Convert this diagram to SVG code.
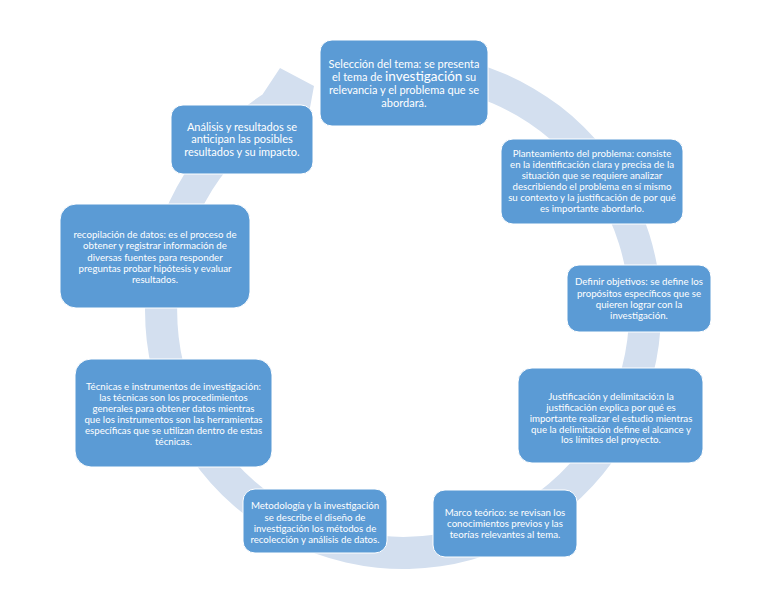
<svg xmlns="http://www.w3.org/2000/svg" width="768" height="594" viewBox="0 0 768 594">
<style>
.box{fill:#5b9bd5;stroke:#ffffff;stroke-width:1}
.t{font-family:Lato,"Open Sans","Liberation Sans",sans-serif;fill:#ffffff;text-anchor:middle;font-size:9.7px}
.big{font-size:11px}
.ring{fill:#d3dfef}
</style>
<rect width="768" height="594" fill="#ffffff"/>
<g id="connectors">
<path class="ring" d="M 349.4 58.6 A 258 258 0 1 1 262.5 94.6 L 280 68 L 314 86 L 307.4 121.8 L 279.9 121.5 A 226 226 0 1 0 356.0 89.9 Z"/>
</g>
<g id="n1">
<rect class="box" x="320" y="40" width="168" height="86" rx="12"/>
<text class="t big" x="404"><tspan x="404" y="67.5">Selección del tema: se presenta</tspan><tspan x="404" y="81">el tema de <tspan style="font-size:13.5px">investigación</tspan> su</tspan><tspan x="404" y="94">relevancia y el problema que se</tspan><tspan x="404" y="106.5">abordará.</tspan></text>
</g>
<g id="n2">
<rect class="box" x="501" y="139" width="182" height="85" rx="12"/>
<text class="t" x="592"><tspan x="592" y="157">Planteamiento del problema: consiste</tspan><tspan x="592" y="168">en la identificación clara y precisa de la</tspan><tspan x="592" y="179">situación que se requiere analizar</tspan><tspan x="592" y="190.3">describiendo el problema en sí mismo</tspan><tspan x="592" y="201.3">su contexto y la justificación de por qué</tspan><tspan x="592" y="212.3">es importante abordarlo.</tspan></text>
</g>
<g id="n3">
<rect class="box" x="567" y="265" width="144" height="67" rx="12"/>
<text class="t" x="639"><tspan x="639" y="285.3">Definir objetivos: se define los</tspan><tspan x="639" y="297">propósitos específicos que se</tspan><tspan x="639" y="308">quieren lograr con la</tspan><tspan x="639" y="318.6">investigación.</tspan></text>
</g>
<g id="n4">
<rect class="box" x="518" y="368" width="185" height="95" rx="14"/>
<text class="t" x="611"><tspan x="611" y="400">Justificación y delimitació:n la</tspan><tspan x="611" y="411">justificación explica por qué es</tspan><tspan x="611" y="421.6">importante realizar el estudio mientras</tspan><tspan x="611" y="432.6">que la delimitación define el alcance y</tspan><tspan x="611" y="443.3">los límites del proyecto.</tspan></text>
</g>
<g id="n5">
<rect class="box" x="433" y="490" width="144" height="67" rx="12"/>
<text class="t" x="505"><tspan x="505" y="516.3">Marco teórico: se revisan los</tspan><tspan x="505" y="527">conocimientos previos y las</tspan><tspan x="505" y="538">teorías relevantes al tema.</tspan></text>
</g>
<g id="n6">
<rect class="box" x="243" y="489" width="144" height="64" rx="12"/>
<text class="t" x="315"><tspan x="315" y="509.3">Metodología y la investigación</tspan><tspan x="315" y="521">se describe el diseño de</tspan><tspan x="315" y="532">investigación los métodos de</tspan><tspan x="315" y="542.6">recolección y análisis de datos.</tspan></text>
</g>
<g id="n7">
<rect class="box" x="75" y="359" width="197" height="108" rx="16"/>
<text class="t" x="173.5"><tspan x="173.5" y="389.6">Técnicas e instrumentos de investigación:</tspan><tspan x="173.5" y="401">las técnicas son los procedimientos</tspan><tspan x="173.5" y="412">generales para obtener datos mientras</tspan><tspan x="173.5" y="423">que los instrumentos son las herramientas</tspan><tspan x="173.5" y="434.3">específicas que se utilizan dentro de estas</tspan><tspan x="173.5" y="445.3">técnicas.</tspan></text>
</g>
<g id="n8">
<rect class="box" x="60" y="204" width="190" height="104" rx="16"/>
<text class="t" x="155"><tspan x="155" y="238.3">recopilación de datos: es el proceso de</tspan><tspan x="155" y="249.3">obtener y registrar información de</tspan><tspan x="155" y="260.6">diversas fuentes para responder</tspan><tspan x="155" y="271.6">preguntas probar hipótesis y evaluar</tspan><tspan x="155" y="282.6">resultados.</tspan></text>
</g>
<g id="n9">
<rect class="box" x="171" y="105" width="142" height="69" rx="12"/>
<text class="t big" x="242"><tspan x="242" y="130.5">Análisis y resultados se</tspan><tspan x="242" y="143">anticipan las posibles</tspan><tspan x="242" y="155.5">resultados y su impacto.</tspan></text>
</g>
</svg>
